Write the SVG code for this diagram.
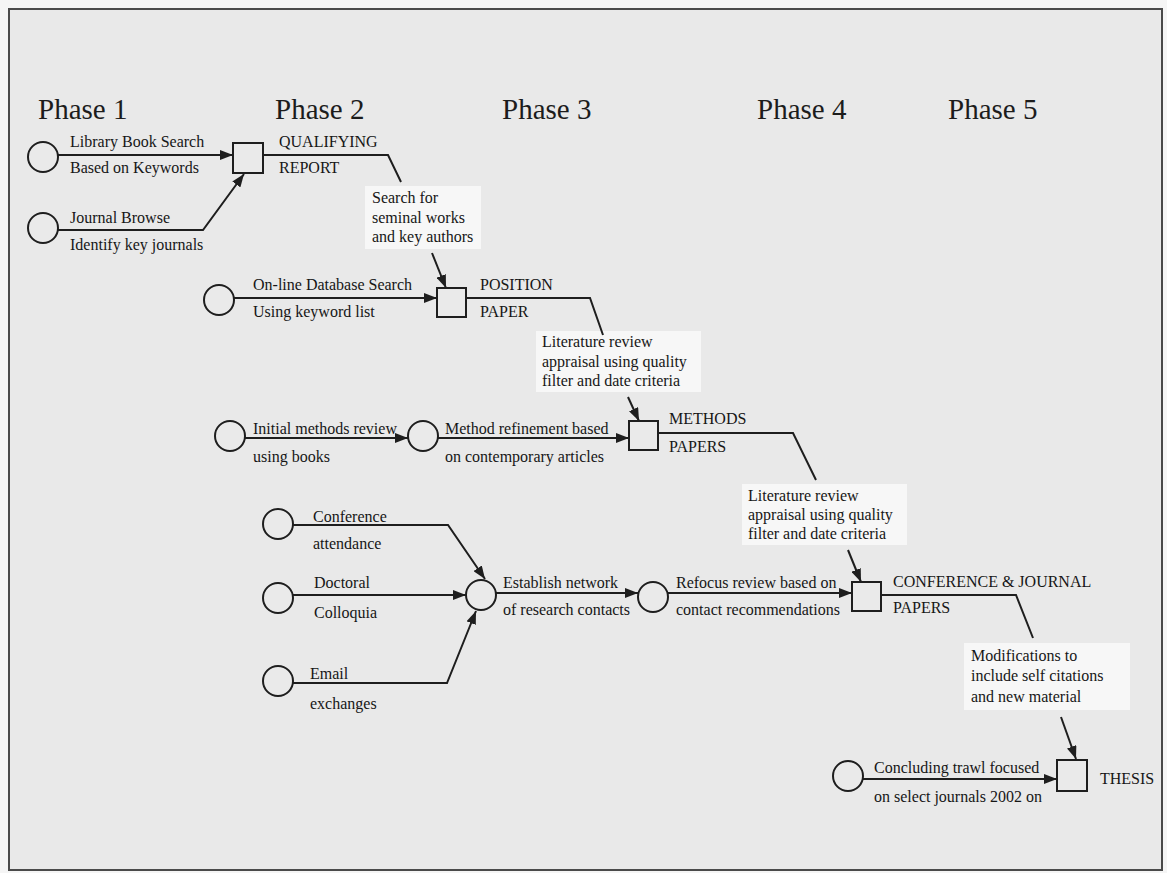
<svg xmlns="http://www.w3.org/2000/svg" width="1167" height="873" viewBox="0 0 1167 873">
  <style>
    .phase { font-family: "Liberation Serif", "Times New Roman", serif; font-size: 29px; fill: #1c1c1c; }
    .lbl { font-family: "Liberation Serif", "Times New Roman", serif; font-size: 16px; fill: #161616; }
    .node { fill: #eaeaea; stroke: #1e1e1e; stroke-width: 2; }
    .edge { fill: none; stroke: #1e1e1e; stroke-width: 2; }
    .note { fill: #f7f7f7; stroke: none; }
  </style>
  <defs>
    <marker id="arrow" viewBox="0 0 13 10" refX="13" refY="5" markerWidth="13" markerHeight="10" markerUnits="userSpaceOnUse" orient="auto">
      <path d="M0,0 L13,5 L0,10 z" fill="#1e1e1e"/>
    </marker>
  </defs>

  <!-- page and frame -->
  <rect x="0" y="0" width="1167" height="873" fill="#f5f5f5"/>
  <rect x="9" y="9" width="1153" height="861" fill="#e9e9e9" stroke="#4a4a4a" stroke-width="2"/>

  <!-- phase headings -->
  <g id="phases">
    <text class="phase" x="38" y="119">Phase 1</text>
    <text class="phase" x="275" y="119">Phase 2</text>
    <text class="phase" x="502" y="119">Phase 3</text>
    <text class="phase" x="757" y="119">Phase 4</text>
    <text class="phase" x="948" y="119">Phase 5</text>
  </g>

  <!-- note backgrounds -->
  <g id="note-boxes">
    <rect class="note" x="365" y="186" width="116" height="63"/>
    <rect class="note" x="536" y="331" width="165" height="61"/>
    <rect class="note" x="742" y="484" width="165" height="61"/>
    <rect class="note" x="964" y="643" width="166" height="67"/>
  </g>

  <!-- connectors -->
  <g id="connectors">
    <line class="edge" x1="58" y1="155" x2="233" y2="155" marker-end="url(#arrow)"/>
    <polyline class="edge" points="58,230 203,230 244,174" marker-end="url(#arrow)"/>
    <polyline class="edge" points="263,155 388,155 401,182"/>
    <line class="edge" x1="432" y1="253" x2="446" y2="288" marker-end="url(#arrow)"/>
    <line class="edge" x1="234" y1="298" x2="437" y2="298" marker-end="url(#arrow)"/>
    <polyline class="edge" points="466,298 590,298 603,335"/>
    <line class="edge" x1="628" y1="397" x2="639" y2="421" marker-end="url(#arrow)"/>
    <line class="edge" x1="245" y1="438" x2="408" y2="438" marker-end="url(#arrow)"/>
    <line class="edge" x1="438" y1="438" x2="629" y2="438" marker-end="url(#arrow)"/>
    <polyline class="edge" points="658,433 793,433 816,480"/>
    <line class="edge" x1="848" y1="550" x2="861" y2="582" marker-end="url(#arrow)"/>
    <polyline class="edge" points="293,525 448,525 485,579" marker-end="url(#arrow)"/>
    <line class="edge" x1="293" y1="595" x2="466" y2="595" marker-end="url(#arrow)"/>
    <polyline class="edge" points="293,683 447,683 476,611" marker-end="url(#arrow)"/>
    <line class="edge" x1="496" y1="593" x2="638" y2="593" marker-end="url(#arrow)"/>
    <line class="edge" x1="668" y1="593" x2="852" y2="593" marker-end="url(#arrow)"/>
    <polyline class="edge" points="881,595 1016,595 1033,638"/>
    <line class="edge" x1="1061" y1="717" x2="1076" y2="759" marker-end="url(#arrow)"/>
    <line class="edge" x1="863" y1="779" x2="1057" y2="779" marker-end="url(#arrow)"/>
  </g>

  <!-- Phase 1 sources -->
  <g id="library-book-search">
    <circle class="node" cx="43" cy="157" r="15"/>
    <text class="lbl" x="70" y="147">Library Book Search</text>
    <text class="lbl" x="70" y="173">Based on Keywords</text>
  </g>
  <g id="journal-browse">
    <circle class="node" cx="43" cy="228" r="15"/>
    <text class="lbl" x="70" y="223">Journal Browse</text>
    <text class="lbl" x="70" y="250">Identify key journals</text>
  </g>
  <g id="qualifying-report">
    <rect class="node" x="233" y="143" width="30" height="30"/>
    <text class="lbl" x="279" y="147">QUALIFYING</text>
    <text class="lbl" x="279" y="173">REPORT</text>
  </g>
  <g id="search-seminal">
    <text class="lbl" x="372" y="203">Search for</text>
    <text class="lbl" x="372" y="223">seminal works</text>
    <text class="lbl" x="372" y="242">and key authors</text>
  </g>

  <!-- Phase 2 -->
  <g id="online-database-search">
    <circle class="node" cx="219" cy="300" r="15"/>
    <text class="lbl" x="253" y="290">On-line Database Search</text>
    <text class="lbl" x="253" y="317">Using keyword list</text>
  </g>
  <g id="position-paper">
    <rect class="node" x="437" y="288" width="29" height="29"/>
    <text class="lbl" x="480" y="290">POSITION</text>
    <text class="lbl" x="480" y="317">PAPER</text>
  </g>
  <g id="literature-review-1">
    <text class="lbl" x="542" y="347">Literature review</text>
    <text class="lbl" x="542" y="367">appraisal using quality</text>
    <text class="lbl" x="542" y="386">filter and date criteria</text>
  </g>

  <!-- Phase 3 -->
  <g id="initial-methods-review">
    <circle class="node" cx="230" cy="436" r="15"/>
    <text class="lbl" x="253" y="434">Initial methods review</text>
    <text class="lbl" x="253" y="462">using books</text>
  </g>
  <g id="method-refinement">
    <circle class="node" cx="423" cy="436" r="15"/>
    <text class="lbl" x="445" y="434">Method refinement based</text>
    <text class="lbl" x="445" y="462">on contemporary articles</text>
  </g>
  <g id="methods-papers">
    <rect class="node" x="629" y="421" width="29" height="29"/>
    <text class="lbl" x="669" y="424">METHODS</text>
    <text class="lbl" x="669" y="452">PAPERS</text>
  </g>
  <g id="literature-review-2">
    <text class="lbl" x="748" y="501">Literature review</text>
    <text class="lbl" x="748" y="520">appraisal using quality</text>
    <text class="lbl" x="748" y="539">filter and date criteria</text>
  </g>

  <!-- Phase 4 -->
  <g id="conference-attendance">
    <circle class="node" cx="278" cy="524" r="15"/>
    <text class="lbl" x="313" y="522">Conference</text>
    <text class="lbl" x="313" y="549">attendance</text>
  </g>
  <g id="doctoral-colloquia">
    <circle class="node" cx="278" cy="598" r="15"/>
    <text class="lbl" x="314" y="588">Doctoral</text>
    <text class="lbl" x="314" y="618">Colloquia</text>
  </g>
  <g id="email-exchanges">
    <circle class="node" cx="278" cy="681" r="15"/>
    <text class="lbl" x="310" y="679">Email</text>
    <text class="lbl" x="310" y="709">exchanges</text>
  </g>
  <g id="establish-network">
    <circle class="node" cx="481" cy="595" r="15"/>
    <text class="lbl" x="503" y="588">Establish network</text>
    <text class="lbl" x="503" y="615">of research contacts</text>
  </g>
  <g id="refocus-review">
    <circle class="node" cx="653" cy="597" r="15"/>
    <text class="lbl" x="676" y="588">Refocus review based on</text>
    <text class="lbl" x="676" y="615">contact recommendations</text>
  </g>
  <g id="conference-journal-papers">
    <rect class="node" x="852" y="582" width="29" height="29"/>
    <text class="lbl" x="893" y="587">CONFERENCE &amp; JOURNAL</text>
    <text class="lbl" x="893" y="613">PAPERS</text>
  </g>
  <g id="modifications">
    <text class="lbl" x="971" y="661">Modifications to</text>
    <text class="lbl" x="971" y="681">include self citations</text>
    <text class="lbl" x="971" y="702">and new material</text>
  </g>

  <!-- Phase 5 -->
  <g id="concluding-trawl">
    <circle class="node" cx="848" cy="776" r="15"/>
    <text class="lbl" x="874" y="773">Concluding trawl focused</text>
    <text class="lbl" x="874" y="802">on select journals 2002 on</text>
  </g>
  <g id="thesis">
    <rect class="node" x="1057" y="760" width="30" height="31"/>
    <text class="lbl" x="1100" y="784">THESIS</text>
  </g>
</svg>
